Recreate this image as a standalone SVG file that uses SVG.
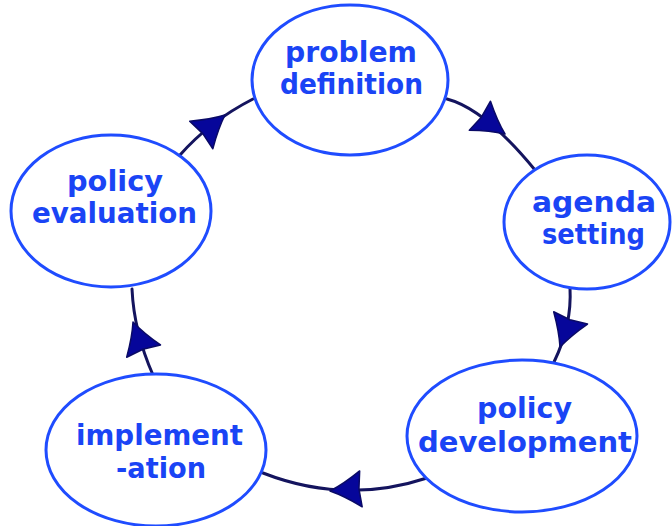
<svg xmlns="http://www.w3.org/2000/svg" xmlns:xlink="http://www.w3.org/1999/xlink" width="672" height="526" viewBox="0 0 672 526">
<style>
.node ellipse{fill:#ffffff;stroke:#1f4cff;stroke-width:3}
.node text{font-family:"DejaVu Sans","Liberation Sans",sans-serif;font-weight:bold;font-size:29px;fill:#1a44f5}
.conn path{fill:none;stroke:#14145e;stroke-width:3;stroke-linecap:round}
.arrow{fill:#06069a;stroke:#0a0a66;stroke-width:1.5;stroke-linejoin:round}
</style>
<defs>
<path id="ah" d="M0,0 Q-14,-6 -31,-18 L-29,0 L-31,18 Q-14,6 0,0 Z"/>
</defs>
<rect width="672" height="526" fill="#ffffff"/>
<g id="connectors" class="conn">
<path d="M447,99 Q485,109 535,170"/>
<path d="M570,288 Q572,325 554,362"/>
<path d="M427,478 Q345,505 263,473"/>
<path d="M153,375 Q134,332 132,289"/>
<path d="M180,155 Q210,121 253,99"/>
<use xlink:href="#ah" class="arrow" transform="translate(505,134) rotate(36)"/>
<use xlink:href="#ah" class="arrow" transform="translate(560,347) rotate(110)"/>
<use xlink:href="#ah" class="arrow" transform="translate(330,491) rotate(176)"/>
<use xlink:href="#ah" class="arrow" transform="translate(133,322) rotate(-110)"/>
<use xlink:href="#ah" class="arrow" transform="translate(225,115) rotate(-40)"/>
</g>
<g id="problem-definition" class="node">
<ellipse cx="350" cy="80" rx="98" ry="75"/>
<text x="285" y="62" textLength="132" lengthAdjust="spacingAndGlyphs">problem</text>
<text x="280" y="94" textLength="143" lengthAdjust="spacingAndGlyphs">definition</text>
</g>
<g id="agenda-setting" class="node">
<ellipse cx="587" cy="222" rx="83" ry="67"/>
<text x="532" y="212" textLength="124" lengthAdjust="spacingAndGlyphs">agenda</text>
<text x="542" y="244" textLength="103" lengthAdjust="spacingAndGlyphs">setting</text>
</g>
<g id="policy-development" class="node">
<ellipse cx="522" cy="436" rx="115" ry="76"/>
<text x="477" y="418" textLength="95" lengthAdjust="spacingAndGlyphs">policy</text>
<text x="418" y="452" textLength="214" lengthAdjust="spacingAndGlyphs">development</text>
</g>
<g id="implementation" class="node">
<ellipse cx="156" cy="450" rx="110" ry="76"/>
<text x="76" y="445" textLength="167" lengthAdjust="spacingAndGlyphs">implement</text>
<text x="116" y="478" textLength="90" lengthAdjust="spacingAndGlyphs">-ation</text>
</g>
<g id="policy-evaluation" class="node">
<ellipse cx="111" cy="211" rx="100" ry="76"/>
<text x="67" y="191" textLength="96" lengthAdjust="spacingAndGlyphs">policy</text>
<text x="32" y="223" textLength="165" lengthAdjust="spacingAndGlyphs">evaluation</text>
</g>
</svg>
